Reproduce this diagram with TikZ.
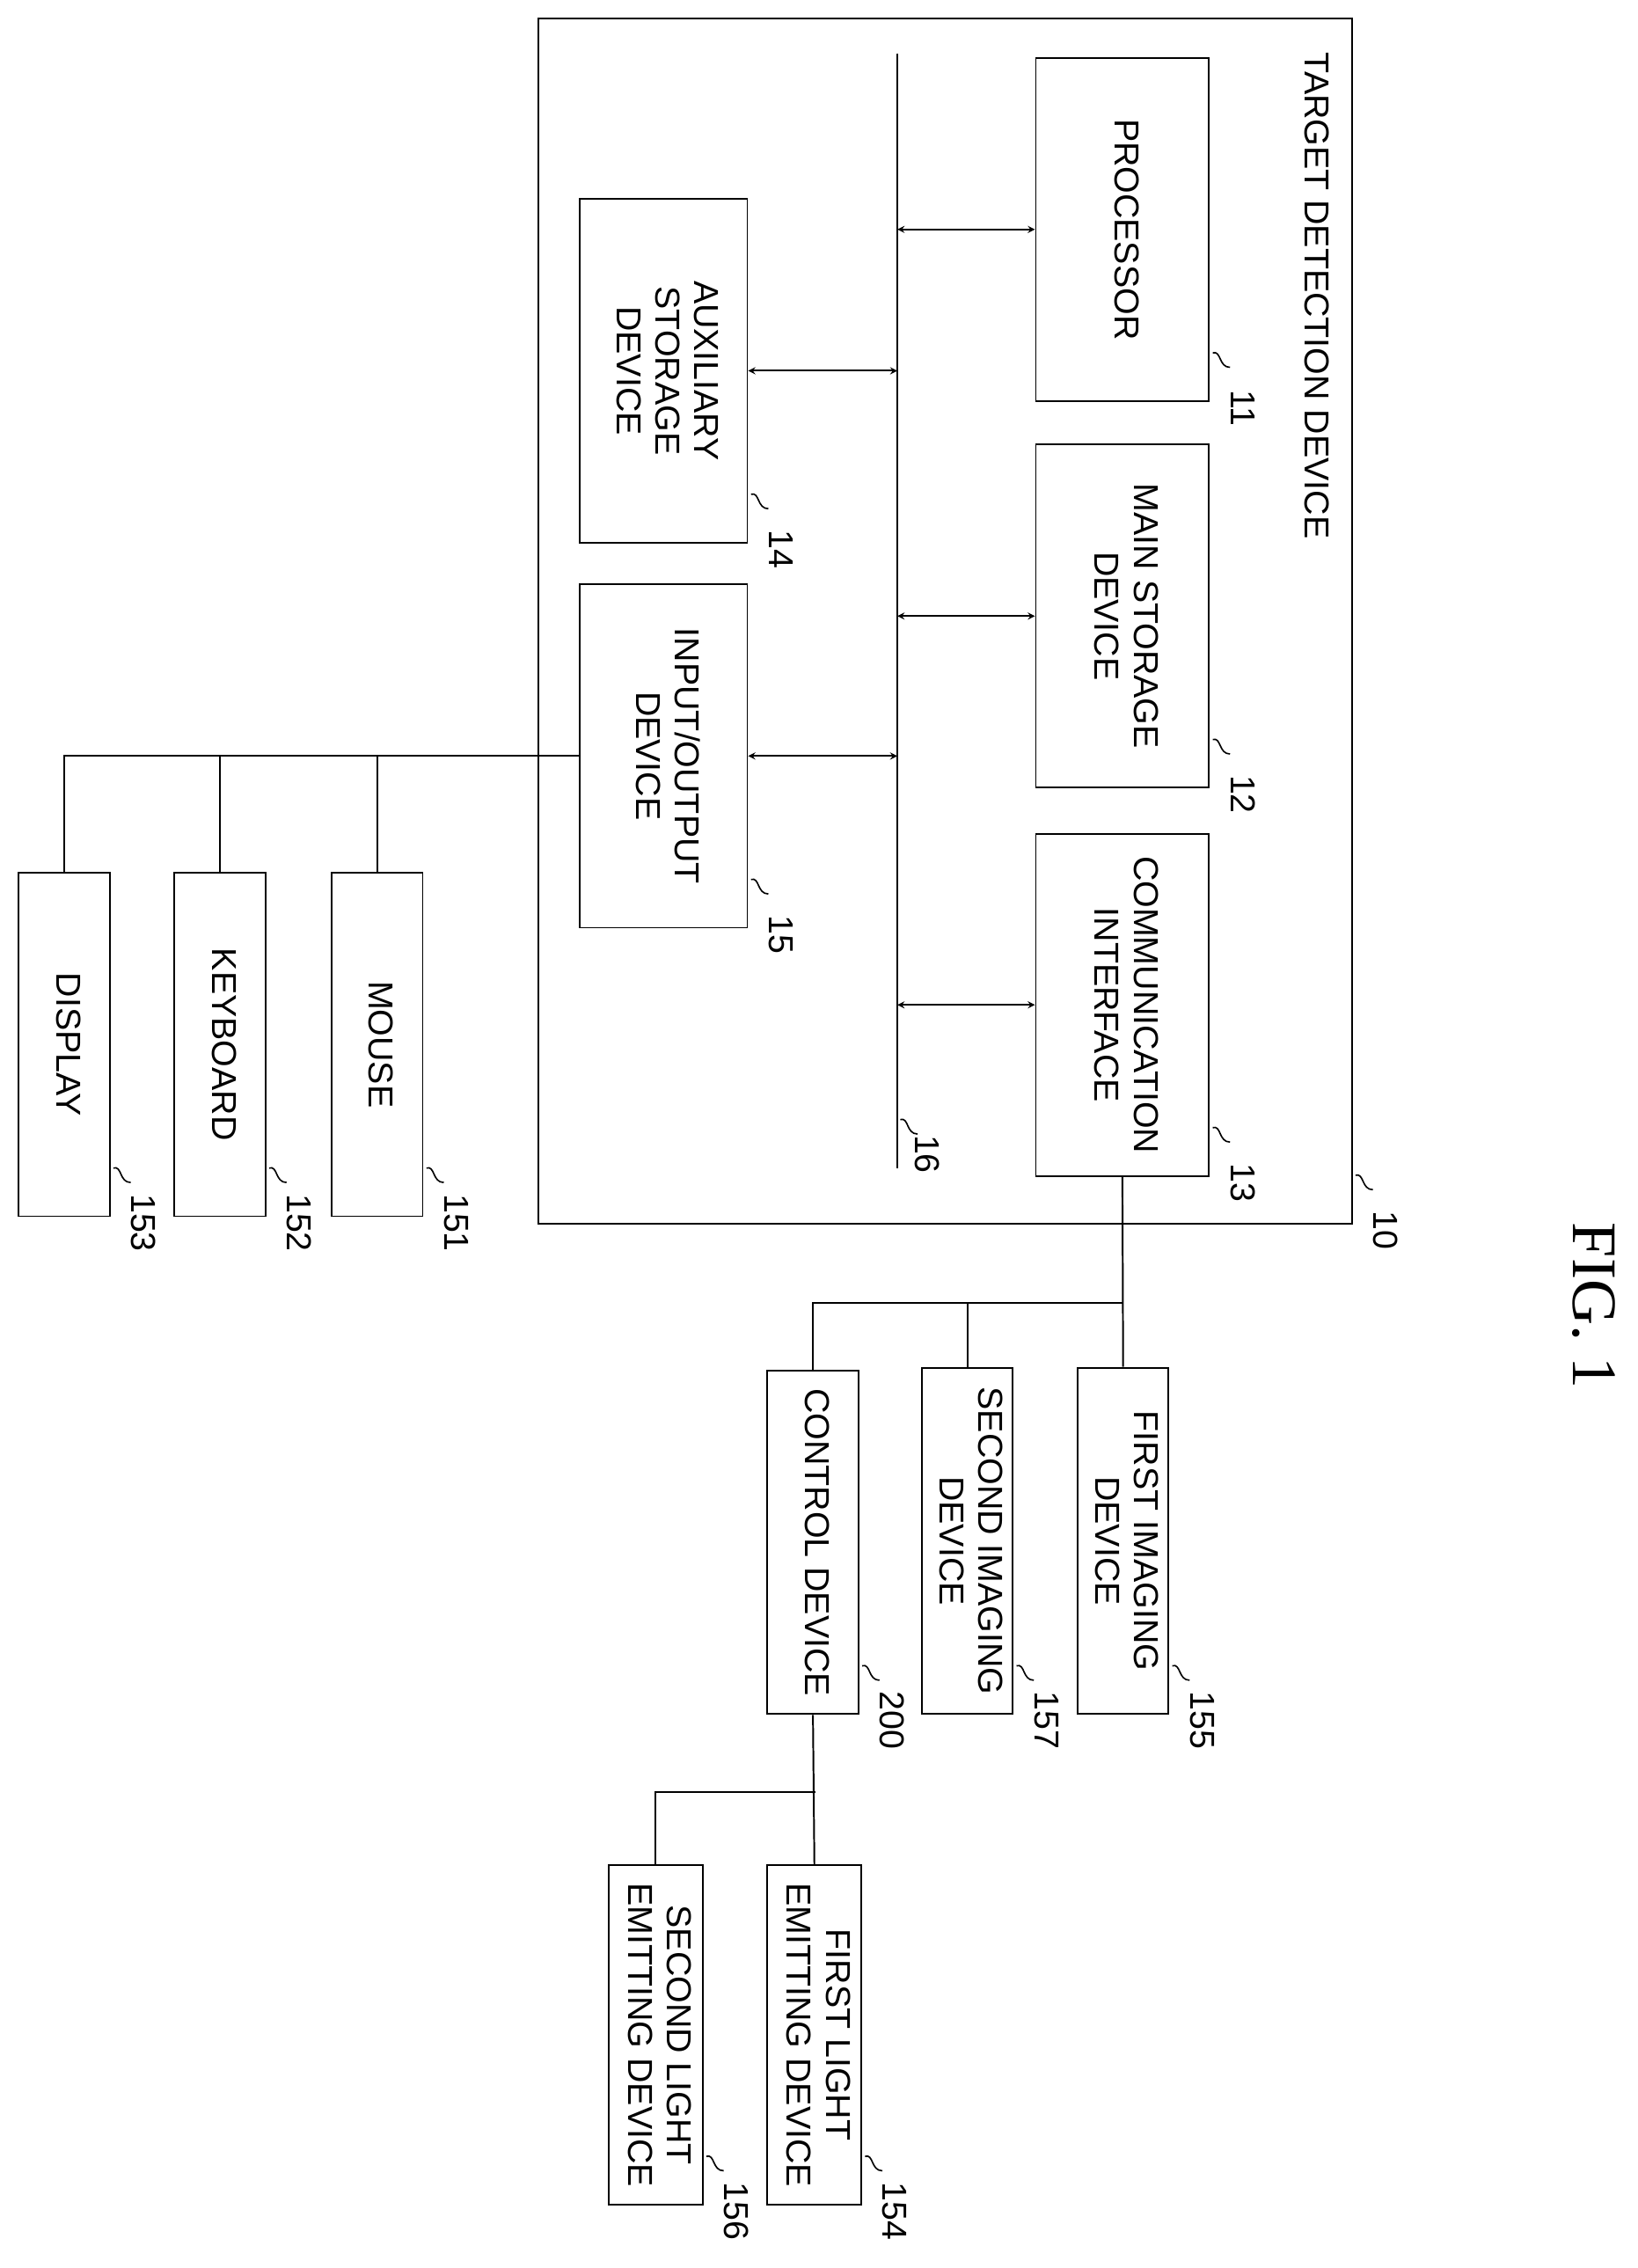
\documentclass[tikz,border=0pt]{standalone}
\usepackage{fontspec}
\setmainfont{Liberation Sans}
\newfontfamily\figfont{Liberation Serif}
\usetikzlibrary{calc}

\tikzset{
  blk/.style={draw, line width=1.2pt, inner sep=0pt},
  conn/.style={line width=1.2pt},
  bi/.style={conn, <->, >=stealth},
}
% rotated text
\newcommand{\rt}[1]{\rotatebox{-90}{\begin{tabular}{@{}c@{}}#1\end{tabular}}}
% reference numeral with squiggle
\newcommand{\refnum}[2]{%
  \draw[line width=1pt] ($(#1)+(2,-34)$) .. controls ($(#1)+(8,-36)$) and ($(#1)+(6,-24)$) .. ($(#1)+(14,-24)$);
  \node at ($(#1)+(20,4)$) {\rt{#2}};
}

\begin{document}
\begin{tikzpicture}[x=1pt,y=-1pt,font=\fontsize{24}{27}\selectfont]
\useasboundingbox (0,0) rectangle (1135,1572);

%outer device
\node[blk, minimum width=564, minimum height=835] (tdd) at (655,430.5) {};
\node at (910,205) {\rt{TARGET DETECTION DEVICE}};
\refnum{tdd.south east}{10}

%bus
\coordinate (bustop) at (622,37);
\coordinate (busbot) at (622,810);
\draw[conn] (bustop) -- (busbot);
\node at (640,800) {\rt{16}};
\draw[line width=1pt] (624,776) .. controls (630,774) and (628,786) .. (636,786);

%blocks
\node[blk, minimum width=120, minimum height=238] (proc) at (778,159) {\rt{PROCESSOR}};
\node[blk, minimum width=120, minimum height=238] (mem) at (778,427) {\rt{MAIN STORAGE\\DEVICE}};
\node[blk, minimum width=120, minimum height=237] (comm) at (778,696.5) {\rt{COMMUNICATION\\INTERFACE}};
\node[blk, minimum width=116, minimum height=238] (aux) at (460,257) {\rt{AUXILIARY\\STORAGE\\DEVICE}};
\node[blk, minimum width=116, minimum height=238] (io) at (460,524) {\rt{INPUT/OUTPUT\\DEVICE}};
\refnum{proc.south east}{11}
\refnum{mem.south east}{12}
\refnum{comm.south east}{13}
\refnum{aux.south east}{14}
\refnum{io.south east}{15}

\draw[bi] (proc.west -| bustop) -- (proc.west);
\draw[bi] (mem.west -| bustop) -- (mem.west);
\draw[bi] (comm.west -| bustop) -- (comm.west);
\draw[bi] (aux.east) -- (aux.east -| bustop);
\draw[bi] (io.east) -- (io.east -| bustop);

%peripherals
\node[blk, minimum width=63, minimum height=238] (mouse) at (261.5,724) {\rt{MOUSE}};
\node[blk, minimum width=63, minimum height=238] (kbd) at (152.5,724) {\rt{KEYBOARD}};
\node[blk, minimum width=63, minimum height=238] (disp) at (44.5,724) {\rt{DISPLAY}};
\refnum{mouse.south east}{151}
\refnum{kbd.south east}{152}
\refnum{disp.south east}{153}
\draw[conn] (io.west) -- (disp.north |- io.west) -- (disp.north);
\draw[conn] (mouse.north) -- (mouse.north |- io.west);
\draw[conn] (kbd.north) -- (kbd.north |- io.west);

%imaging and control
\node[blk, minimum width=63, minimum height=240] (cam1) at (778.5,1068) {\rt{FIRST IMAGING\\DEVICE}};
\node[blk, minimum width=63, minimum height=240] (cam2) at (670.5,1068) {\rt{SECOND IMAGING\\DEVICE}};
\node[blk, minimum width=63, minimum height=238] (ctrl) at (563.5,1069) {\rt{CONTROL DEVICE}};
\refnum{cam1.south east}{155}
\refnum{cam2.south east}{157}
\refnum{ctrl.south east}{200}
\coordinate (j1) at (778,903);
\draw[conn] (comm.south) -- (cam1.north);
\draw[conn] (j1) -| (ctrl.north);
\draw[conn] (cam2.north) -- (cam2.north |- j1);

%light emitting
\node[blk, minimum width=65, minimum height=235] (led1) at (564.5,1410.5) {\rt{FIRST LIGHT\\EMITTING DEVICE}};
\node[blk, minimum width=65, minimum height=235] (led2) at (454.5,1410.5) {\rt{SECOND LIGHT\\EMITTING DEVICE}};
\refnum{led1.south east}{154}
\refnum{led2.south east}{156}
\coordinate (j2) at (565,1242);
\draw[conn] (ctrl.south) -- (led1.north);
\draw[conn] (j2) -| (led2.north);

\node[font=\figfont\fontsize{44}{48}\selectfont] (fig) at (1100,905) {\rt{FIG. 1}};
\end{tikzpicture}
\end{document}
